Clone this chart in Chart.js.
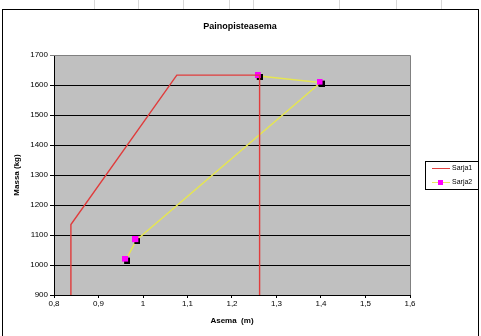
<!DOCTYPE html>
<html><head><meta charset="utf-8">
<script src="https://cdn.jsdelivr.net/npm/chart.js@4"></script>
<style>html,body{margin:0;padding:0;background:#fff;}#wrap{position:relative;width:481px;height:336px;}</style>
</head><body><div id="wrap"><canvas id="c" width="481" height="336"></canvas></div>
<script>
const chartTitle = 'Painopisteasema';
const xTitle = 'Asema  (m)';
const yTitle = 'Massa (kg)';
const seriesNames = ['Sarja1', 'Sarja2'];
const sarja1X = [0.838, 0.838, 1.076, 1.262, 1.262];
const sarja1Y = [900, 1135, 1633, 1633, 900];
const sarja2X = [0.962, 0.985, 1.399, 1.260];
const sarja2Y = [1018, 1083, 1608, 1630];
const xMin = 0.8, xMax = 1.6, xStep = 0.1;
const yMin = 900, yMax = 1700, yStep = 100;

const FONT = '"Liberation Sans", Arial, sans-serif';

function markerCanvas(){
  const c = document.createElement('canvas');
  c.width = 8; c.height = 8;
  const g = c.getContext('2d');
  g.fillStyle = '#000000'; g.fillRect(2,2,6,6);
  g.fillStyle = '#ff00ff'; g.fillRect(0,0,6,6);
  return c;
}
const marker = markerCanvas();

const framePlugin = {
  id: 'frame',
  beforeDraw(chart){
    const {ctx, chartArea:a} = chart;
    ctx.save();
    ctx.strokeStyle = '#d8d8d8'; ctx.lineWidth = 1;
    [94,138,183,229,253,339,396,441].forEach(x=>{
      ctx.beginPath(); ctx.moveTo(x+0.5,0); ctx.lineTo(x+0.5,9); ctx.stroke();
    });
    ctx.strokeStyle = '#000'; ctx.lineWidth = 1;
    ctx.strokeRect(2.5, 9.5, 476, 340);
    ctx.fillStyle = '#c0c0c0';
    ctx.fillRect(a.left, a.top, a.right-a.left, a.bottom-a.top);
    ctx.restore();
  },
  afterDraw(chart){
    const {ctx, chartArea:a} = chart;
    ctx.save();
    ctx.strokeStyle = '#808080'; ctx.lineWidth = 1;
    ctx.beginPath();
    ctx.moveTo(a.left, a.top+0.5); ctx.lineTo(a.right+0.5, a.top+0.5); ctx.lineTo(a.right+0.5, a.bottom);
    ctx.stroke();
    ctx.fillStyle = '#000';
    ctx.font = 'bold 9px ' + FONT;
    ctx.textAlign = 'center'; ctx.textBaseline = 'middle';
    ctx.fillText(chartTitle, 240, 27);
    ctx.strokeStyle = '#000';
    ctx.strokeRect(425.5, 161.5, 53, 28);
    ctx.strokeStyle = '#e04040'; ctx.lineWidth = 1;
    ctx.beginPath(); ctx.moveTo(432, 168.5); ctx.lineTo(450, 168.5); ctx.stroke();
    ctx.strokeStyle = '#e8e860';
    ctx.beginPath(); ctx.moveTo(432, 182.5); ctx.lineTo(450, 182.5); ctx.stroke();
    ctx.fillStyle = '#ff00ff'; ctx.fillRect(438, 180, 5, 5);
    ctx.fillStyle = '#000';
    ctx.font = '7px ' + FONT;
    ctx.textAlign = 'left';
    ctx.fillText(seriesNames[0], 452, 168.5);
    ctx.fillText(seriesNames[1], 452, 182.5);
    ctx.restore();
  }
};

const fmt = v => { const r = Math.round(v*10)/10; return String(r).replace('.', ','); };

new Chart(document.getElementById('c'), {
  type: 'scatter',
  data: {
    datasets: [
      {
        label: seriesNames[0],
        data: sarja1X.map((x,i)=>({x, y: sarja1Y[i]})),
        showLine: true, borderColor: '#e03c3c', borderWidth: 1.4,
        pointRadius: 0, pointHoverRadius: 0, fill: false, tension: 0
      },
      {
        label: seriesNames[1],
        data: sarja2X.map((x,i)=>({x, y: sarja2Y[i]})),
        showLine: true, borderColor: '#e6e650', borderWidth: 1.4,
        pointStyle: marker, pointRadius: 4, fill: false, tension: 0
      }
    ]
  },
  options: {
    responsive: false, animation: false, devicePixelRatio: 1,
    layout: { padding: { left: 8, top: 55, right: 71, bottom: 6 } },
    plugins: { legend: { display: false }, title: { display: false }, tooltip: { enabled: false } },
    scales: {
      x: {
        type: 'linear', min: xMin, max: xMax,
        afterBuildTicks(s){ const t=[]; for(let i=0;i<=Math.round((xMax-xMin)/xStep);i++) t.push({value: Math.round((xMin+i*xStep)*10)/10}); s.ticks = t; },
        afterFit(s){ s.height = 35; },
        grid: { drawOnChartArea: false, drawTicks: true, tickLength: 3, color: '#000' },
        border: { color: '#000', width: 1 },
        ticks: { callback: v => fmt(v), font: { family: FONT, size: 8 }, color: '#000', padding: 1, maxRotation: 0, autoSkip: false },
        title: { display: true, text: xTitle, font: { family: FONT, size: 8, weight: 'bold' }, color: '#000', padding: { top: 2 } }
      },
      y: {
        type: 'linear', min: yMin, max: yMax,
        ticks: { stepSize: yStep, callback: v => String(v), font: { family: FONT, size: 8 }, color: '#000', padding: 2 },
        afterFit(s){ s.width = 46; },
        grid: { color: ctx => ctx.tick && ctx.tick.value === yMax ? '#808080' : '#000', tickLength: 4, lineWidth: 1 },
        border: { color: '#000', width: 1 },
        title: { display: true, text: yTitle, font: { family: FONT, size: 8, weight: 'bold' }, color: '#000', padding: { top: 4, bottom: 2 } }
      }
    }
  },
  plugins: [framePlugin]
});
</script>
</body></html>
